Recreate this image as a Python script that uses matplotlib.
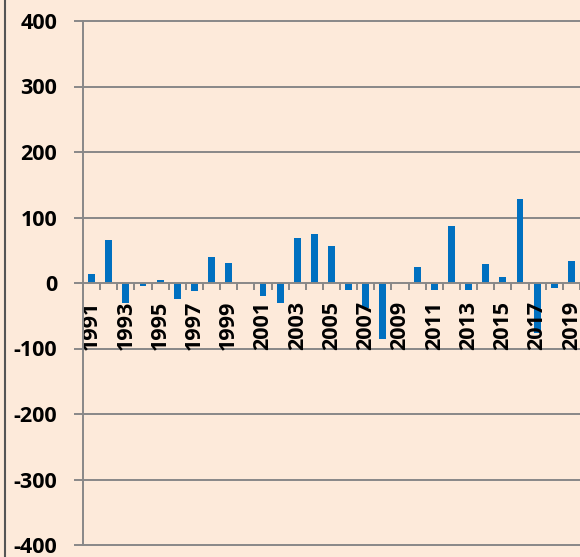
import matplotlib
matplotlib.use("Agg")
import matplotlib.pyplot as plt
from matplotlib.lines import Line2D
import numpy as np

years = list(range(1991, 2020))
values = [14, 66, -30, -5, 4, -25, -12, 39, 30, 0,
          -20, -31, 69, 75, 57, -10, -38, -86, 0, 25,
          -11, 87, -10, 29, 9, 128, -76, -7, 34]
yticks = [-400, -300, -200, -100, 0, 100, 200, 300, 400]

bg = '#FDEADA'
grid_c = '#888888'
bar_c = '#0070C0'
font = ['Open Sans', 'DejaVu Sans']

fig = plt.figure(figsize=(5.8, 5.57), dpi=100, facecolor=bg)
ax = fig.add_axes([83/580, 1-545/557, 1-83/580, (545-21)/557])
ax.set_facecolor(bg)

x = np.arange(len(years))
ax.bar(x, values, width=0.4, color=bar_c, zorder=1)

for v in yticks:
    if v != 0:
        ax.axhline(v, color=grid_c, lw=1.4, zorder=0.5, clip_on=False)

ax.set_xlim(-0.5, len(years) - 0.5)
ax.set_ylim(-400, 400)

for s in ['top', 'right']:
    ax.spines[s].set_visible(False)
ax.spines['left'].set_color(grid_c)
ax.spines['left'].set_linewidth(1.4)
ax.spines['bottom'].set_position(('data', 0))
ax.spines['bottom'].set_color(grid_c)
ax.spines['bottom'].set_linewidth(1.4)

ax.set_yticks(yticks)
ax.set_yticklabels([str(v) for v in yticks], family=font, fontweight='bold', fontsize=15.5)
ax.tick_params(axis='y', length=6.5, width=1.4, color=grid_c, pad=12)

ax.set_xticks(x)
ax.set_xticklabels([str(y) if (y - 1991) % 2 == 0 else '' for y in years],
                   rotation=90, family=font, fontweight='bold', fontsize=15.5,
                   va='top', ha='center')
ax.tick_params(axis='x', which='major', length=0, pad=13)
ax.set_xticks(np.arange(-0.5, len(years), 1), minor=True)
ax.tick_params(axis='x', which='minor', length=5, width=1.4, color=grid_c)

fig.add_artist(Line2D([5/580, 5/580], [0, 1], color='#555555', lw=1.5))

fig.savefig('out.png', dpi=100, facecolor=bg)
